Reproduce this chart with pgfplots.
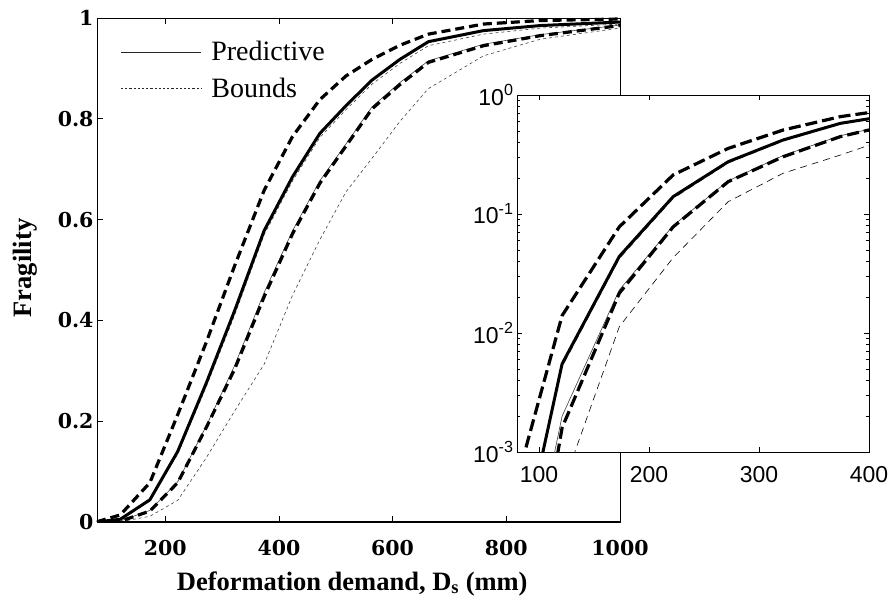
\documentclass[border=0pt]{standalone}
\usepackage{pgfplots}
\pgfplotsset{compat=1.18}
\usepackage{pgfplotstable}
\usepackage{fontspec}
\setmainfont{Liberation Serif}
\newfontfamily\tickfont{DejaVu Serif}
\newfontfamily\insetfont{Liberation Sans}

\pgfplotstableread{
x     U       P       L       p2      u2      l2
80    0.00058 0.0001  0.00001 0.00003 0.00012 0.00001
121   0.014   0.0055  0.0016  0.002   0.0052  0.0005
173   0.078   0.044   0.0216  0.023   0.042   0.0113
222   0.213   0.140   0.078   0.080   0.135   0.043
272   0.356   0.275   0.187   0.190   0.268   0.127
322   0.508   0.419   0.303   0.310   0.410   0.220
374   0.658   0.578   0.447   0.455   0.570   0.313
424   0.765   0.685   0.572   0.578   0.677   0.450
472   0.838   0.771   0.672   0.677   0.763   0.560
518   0.885   0.826   0.746   0.750   0.818   0.655
564   0.918   0.877   0.820   0.824   0.869   0.722
613   0.946   0.918   0.868   0.872   0.910   0.795
663   0.968   0.953   0.912   0.915   0.945   0.860
760   0.988   0.975   0.945   0.948   0.968   0.925
860   0.995   0.985   0.965   0.967   0.980   0.958
1000  0.998   0.992   0.985   0.986   0.988   0.980
}\data

\begin{document}
\begin{tikzpicture}[x=1pt,y=1pt]
\path[use as bounding box] (0,0) rectangle (895,603);
\begin{axis}[
  at={(97pt,81pt)}, anchor=south west, scale only axis,
  width=523pt, height=504pt,
  xmin=80, xmax=1000, ymin=0, ymax=1,
  xtick={200,400,600,800,1000}, ytick={0,0.2,0.4,0.6,0.8,1},
  tick align=inside, major tick length=6pt,
  axis line style={line width=0.8pt},
  tick style={line width=0.6pt, black},
  /pgf/number format/assume math mode=true,
  /pgf/number format/1000 sep={},
  tick label style={font=\fontsize{20.5}{24}\selectfont\tickfont\bfseries},
  xticklabel style={anchor=base, yshift=-33pt},
  xlabel={Deformation demand, D\textsubscript{s} (mm)},
  ylabel={Fragility},
  label style={font=\fontsize{26.5}{30}\selectfont\bfseries},
  xlabel style={at={([yshift=-68pt]axis description cs:0.488,0)}, anchor=base},
  ylabel style={at={([xshift=-65pt]axis description cs:0,0.504)}, anchor=base},
  legend image code/.code={\draw[#1] (0pt,0pt) -- (80pt,0pt);},
  legend style={draw=none, fill=none, at={(0.045,0.958)}, anchor=north west,
    font=\fontsize{28}{30}\selectfont, row sep=12pt, inner sep=0pt,
    /tikz/every odd column/.append style={column sep=8pt}},
  legend cell align=left,
  after end axis/.code={\draw[line width=2.5pt] (rel axis cs:0,0) -- (rel axis cs:1,0);},
]
\addlegendimage{black!85, line width=0.6pt}
\addlegendentry{Predictive}
\addlegendimage{black!85, line width=0.6pt, dash pattern=on 2.2pt off 2pt}
\addlegendentry{Bounds}
\addplot[forget plot, black!75, line width=0.6pt] table[x=x,y=p2]{\data};
\addplot[forget plot, black!75, line width=0.6pt, dash pattern=on 3pt off 3pt] table[x=x,y=u2]{\data};
\addplot[forget plot, black!75, line width=0.6pt, dash pattern=on 3pt off 3pt] table[x=x,y=l2]{\data};
\addplot[forget plot, black, line width=3.2pt, dash pattern=on 9pt off 5pt] table[x=x,y=U]{\data};
\addplot[forget plot, black, line width=3pt, line join=round] table[x=x,y=P]{\data};
\addplot[forget plot, black, line width=3.2pt, dash pattern=on 9pt off 5pt] table[x=x,y=L]{\data};
\end{axis}

\begin{axis}[
  at={(517pt,151pt)}, anchor=south west, scale only axis,
  width=352pt, height=357pt,
  xmin=80, xmax=400, ymode=log, ymin=1e-3, ymax=1,
  xtick={100,200,300,400},
  ytick={0.001,0.01,0.1,1},
  yticklabels={10\textsuperscript{-3},10\textsuperscript{-2},10\textsuperscript{-1},10\textsuperscript{0}},
  minor ytick={0.002,0.003,0.004,0.005,0.006,0.007,0.008,0.009,0.02,0.03,0.04,0.05,0.06,0.07,0.08,0.09,0.2,0.3,0.4,0.5,0.6,0.7,0.8,0.9},
  axis background/.style={fill=white},
  tick align=inside, major tick length=5pt, minor tick length=3pt,
  axis line style={line width=0.8pt},
  tick style={line width=0.6pt, black},
  /pgf/number format/assume math mode=true,
  tick label style={font=\fontsize{23}{26}\selectfont\insetfont},
  xticklabel style={anchor=base, yshift=-30pt},
]
\addplot[black!75, line width=0.6pt] table[x=x,y=p2]{\data};
\addplot[black!75, line width=0.6pt, dash pattern=on 7pt off 5pt] table[x=x,y=u2]{\data};
\addplot[black, line width=0.6pt, dash pattern=on 7pt off 5pt] table[x=x,y=l2]{\data};
\addplot[black, line width=3.2pt, dash pattern=on 12pt off 5pt] table[x=x,y=U]{\data};
\addplot[black, line width=3pt, line join=round] table[x=x,y=P]{\data};
\addplot[black, line width=3.2pt, dash pattern=on 12pt off 5pt] table[x=x,y=L]{\data};
\end{axis}
\end{tikzpicture}
\end{document}
